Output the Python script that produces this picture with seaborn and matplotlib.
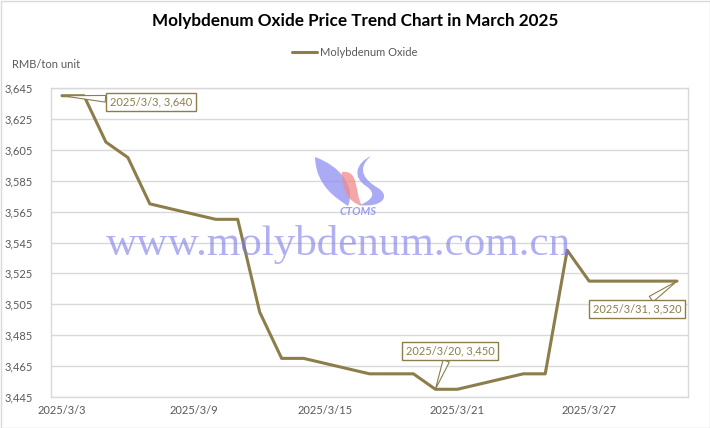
import matplotlib
matplotlib.use("Agg")
import matplotlib.pyplot as plt
import pandas as pd
import seaborn as sns
from matplotlib.patches import Rectangle, PathPatch
from matplotlib.path import Path

# price data (RMB/ton unit), trading days only
dates = ["2025-03-03", "2025-03-04", "2025-03-05", "2025-03-06", "2025-03-07",
         "2025-03-10", "2025-03-11", "2025-03-12", "2025-03-13", "2025-03-14",
         "2025-03-17", "2025-03-18", "2025-03-19", "2025-03-20", "2025-03-21",
         "2025-03-24", "2025-03-25", "2025-03-26", "2025-03-27", "2025-03-28",
         "2025-03-31"]
prices = [3640, 3640, 3610, 3600, 3570,
          3560, 3560, 3500, 3470, 3470,
          3460, 3460, 3460, 3450, 3450,
          3460, 3460, 3540, 3520, 3520,
          3520]
tick_days = ["2025-03-03", "2025-03-09", "2025-03-15", "2025-03-21", "2025-03-27"]
tick_labels = ["2025/3/3", "2025/3/9", "2025/3/15", "2025/3/21", "2025/3/27"]
y_ticks = [3445, 3465, 3485, 3505, 3525, 3545, 3565, 3585, 3605, 3625, 3645]
callouts = [("2025-03-03", 3640), ("2025-03-20", 3450), ("2025-03-31", 3520)]

df = pd.DataFrame({"date": pd.to_datetime(dates), "price": prices})

line_color = "#8C7D4A"
text_gray = "#595959"
grid_gray = "#D9D9D9"

sns.set_style("white")
plt.rcParams["font.family"] = ["Lato", "DejaVu Sans"]

fig = plt.figure(figsize=(7.1, 4.28), dpi=100)
ax = fig.add_axes([51 / 710, 1 - 397 / 428, 637 / 710, 309 / 428])

sns.lineplot(data=df, x="date", y="price", ax=ax, color=line_color,
             linewidth=2.2, label="Molybdenum Oxide")

# each day is one slot, points sit in the middle of their slot
half = pd.Timedelta(hours=12)
ax.set_xlim(pd.Timestamp("2025-03-03") - half, pd.Timestamp("2025-04-01") - half)
ax.set_ylim(3445, 3645)

ax.set_yticks(y_ticks)
ax.set_yticklabels([f"{v:,}" for v in y_ticks])
ax.yaxis.grid(True, color=grid_gray, linewidth=1)
ax.tick_params(axis="y", length=0, labelsize=8, labelcolor=text_gray, pad=13)

ax.set_xticks(pd.to_datetime(tick_days))
ax.set_xticklabels(tick_labels)
ax.set_xticks(pd.to_datetime(tick_days) - half, minor=True)
ax.tick_params(axis="x", which="major", length=0, labelsize=8, labelcolor=text_gray, pad=6)
ax.tick_params(axis="x", which="minor", length=4, color=grid_gray, width=1)
ax.set_xlabel("")
ax.set_ylabel("")

for side in ["top", "right", "left", "bottom"]:
    ax.spines[side].set_color(grid_gray)
    ax.spines[side].set_linewidth(1)


# watermark logo, drawn in figure pixels (y measured from the top)
def px_path(pts):
    verts = [(x / 710, 1 - y / 428) for x, y in pts]
    codes = [Path.MOVETO] + [Path.CURVE4] * (len(verts) - 1)
    return Path(verts, codes)


left_flame = px_path([(315, 157), (340, 166), (356, 186), (348, 206),
                      (336, 198), (316, 186), (315, 157)])
right_flame = px_path([(371, 156), (355, 170), (366, 181), (378, 188),
                       (392, 197), (380, 208), (360, 205),
                       (374, 199), (376, 193), (366, 186),
                       (352, 177), (356, 163), (371, 156)])
red_flame = px_path([(342, 172), (360, 170), (354, 192), (362, 206),
                     (348, 202), (342, 190), (342, 172)])
for p, c in [(left_flame, "#8E8EF2"), (right_flame, "#8E8EF2"), (red_flame, "#F28A8A")]:
    fig.patches.append(PathPatch(p, transform=fig.transFigure, fc=c, ec="none",
                                 alpha=0.75, zorder=0))

fig.text(358 / 710, 1 - 212 / 428, "CTOMS", fontsize=8, fontweight="bold",
         style="italic", color="#8C8CF0", alpha=0.85, ha="center", va="center")
fig.text(338 / 710, 1 - 245 / 428, "www.molybdenum.com.cn", fontsize=31,
         family="Liberation Serif", color="#7B7BE8", alpha=0.6,
         ha="center", va="center", zorder=0)

# callouts
box_pos = [(151, 326), (450, 77), (637, 119)]
for (d, v), (bx, by) in zip(callouts, box_pos):
    ts = pd.Timestamp(d)
    label = f"{ts.year}/{ts.month}/{ts.day}, {v:,}"
    ax.annotate(label, xy=(ts, v), xytext=(bx, by),
                textcoords="figure pixels", ha="center", va="center",
                fontsize=8, color=line_color,
                bbox=dict(boxstyle="square,pad=0.35", fc="white", ec=line_color, lw=1),
                arrowprops=dict(arrowstyle="wedge,tail_width=0.6", fc="white",
                                ec=line_color, lw=0.8, shrinkA=0, shrinkB=0))

# legend
leg = ax.legend(loc="center", bbox_to_anchor=(355 / 710, 1 - 52 / 428),
                bbox_transform=fig.transFigure, frameon=False, fontsize=8,
                handlelength=2.2, handletextpad=0.3)
for t in leg.get_texts():
    t.set_color(text_gray)

fig.text(0.5, 1 - 21 / 428, "Molybdenum Oxide Price Trend Chart in March 2025",
         fontsize=12.3, fontweight="bold", color="black", ha="center", va="center")
fig.text(12 / 710, 1 - 65 / 428, "RMB/ton unit", fontsize=8, color=text_gray,
         ha="left", va="center")

fig.patches.append(Rectangle((0.5 / 710, 0.5 / 428), 709 / 710, 427 / 428,
                             transform=fig.transFigure, fill=False,
                             edgecolor=grid_gray, linewidth=1))

fig.savefig("out.png", dpi=100)
